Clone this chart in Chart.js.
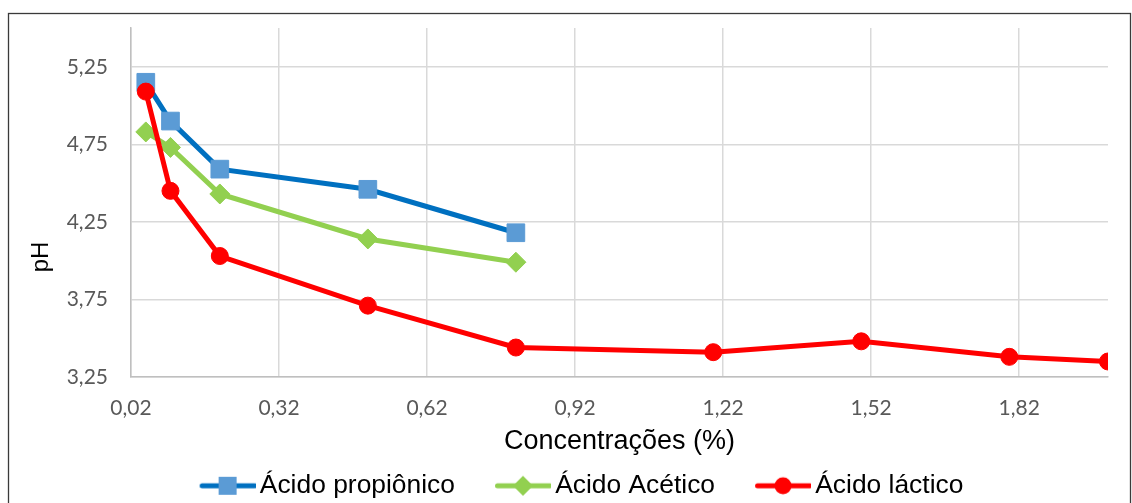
<!DOCTYPE html>
<html>
<head>
<meta charset="utf-8">
<script src="https://cdn.jsdelivr.net/npm/chart.js@4/dist/chart.umd.min.js"></script>
<style>
  html, body { margin: 0; padding: 0; background: #ffffff; }
  #c { display: block; }
</style>
</head>
<body>
<canvas id="c" width="1132" height="503"></canvas>
<script>
// pH measured against acid concentration (%)
const seriesNames = ['Ácido propiônico', 'Ácido Acético', 'Ácido láctico'];

const concPropionico = [0.05, 0.1, 0.2, 0.5, 0.8];
const phPropionico   = [5.15, 4.90, 4.59, 4.46, 4.18];

const concAcetico = [0.05, 0.1, 0.2, 0.5, 0.8];
const phAcetico   = [4.83, 4.73, 4.43, 4.14, 3.99];

const concLactico = [0.05, 0.1, 0.2, 0.5, 0.8, 1.2, 1.5, 1.8, 2.0];
const phLactico   = [5.09, 4.45, 4.03, 3.71, 3.44, 3.41, 3.48, 3.38, 3.35];

const xTicks = [0.02, 0.32, 0.62, 0.92, 1.22, 1.52, 1.82];
const yTicks = [3.25, 3.75, 4.25, 4.75, 5.25];

const xTitle = 'Concentrações (%)';
const yTitle = 'pH';

const toPoints = (xs, ys) => xs.map((x, i) => ({ x: x, y: ys[i] }));
const fmt = v => Number(v).toFixed(2).replace('.', ',');

// legend swatches: a short line with the series marker in the middle
function makeSwatch(lineColor, markerColor, marker) {
  const w = 97, h = 26, lineStart = 41, cx = (lineStart + w) / 2, cy = h / 2;
  const cv = document.createElement('canvas');
  cv.width = w; cv.height = h;
  const g = cv.getContext('2d');
  g.strokeStyle = lineColor;
  g.lineWidth = 5;
  g.lineCap = 'round';
  g.beginPath();
  g.moveTo(lineStart + 2.5, cy);
  g.lineTo(w - 1, cy);
  g.stroke();
  g.fillStyle = markerColor;
  g.beginPath();
  if (marker === 'rect') {
    g.rect(cx - 9, cy - 9, 18, 18);
  } else if (marker === 'diamond') {
    g.moveTo(cx, cy - 10); g.lineTo(cx + 10, cy); g.lineTo(cx, cy + 10); g.lineTo(cx - 10, cy); g.closePath();
  } else {
    g.arc(cx, cy, 8.5, 0, Math.PI * 2);
  }
  g.fill();
  return cv;
}

const swatches = [
  makeSwatch('#0070C0', '#5B9BD5', 'rect'),
  makeSwatch('#92D050', '#92D050', 'diamond'),
  makeSwatch('#FF0000', '#FF0000', 'circle')
];

// frame around the chart and the rotated y-axis title
const framePlugin = {
  id: 'frame',
  beforeDraw(chart) {
    const ctx = chart.ctx;
    ctx.save();
    ctx.fillStyle = '#ffffff';
    ctx.fillRect(0, 0, chart.width, chart.height);
    ctx.restore();
  },
  afterDraw(chart) {
    const ctx = chart.ctx;
    ctx.save();
    ctx.strokeStyle = '#3a3a3a';
    ctx.lineWidth = 1.3;
    ctx.strokeRect(8.5, 13.5, chart.width - 9.5 - 0.5, chart.height + 20);
    ctx.translate(48, 257);
    ctx.rotate(-Math.PI / 2);
    ctx.font = '24px "Liberation Sans", Arial, sans-serif';
    ctx.fillStyle = '#000000';
    ctx.textAlign = 'center';
    ctx.textBaseline = 'alphabetic';
    ctx.fillText(yTitle, 0, 0);
    ctx.restore();
  }
};

new Chart(document.getElementById('c'), {
  type: 'line',
  data: {
    datasets: [
      {
        label: seriesNames[0],
        data: toPoints(concPropionico, phPropionico),
        borderColor: '#0070C0',
        backgroundColor: '#5B9BD5',
        borderWidth: 5,
        pointStyle: 'rect',
        pointRadius: 12.5,
        pointBackgroundColor: '#5B9BD5',
        pointBorderColor: '#5B9BD5',
        pointBorderWidth: 1,
        order: 2
      },
      {
        label: seriesNames[1],
        data: toPoints(concAcetico, phAcetico),
        borderColor: '#92D050',
        backgroundColor: '#92D050',
        borderWidth: 5,
        pointStyle: 'rectRot',
        pointRadius: 10,
        pointBackgroundColor: '#92D050',
        pointBorderColor: '#92D050',
        pointBorderWidth: 1,
        order: 1
      },
      {
        label: seriesNames[2],
        data: toPoints(concLactico, phLactico),
        borderColor: '#FF0000',
        backgroundColor: '#FF0000',
        borderWidth: 5,
        pointStyle: 'circle',
        pointRadius: 8.5,
        pointBackgroundColor: '#FF0000',
        pointBorderColor: '#FF0000',
        pointBorderWidth: 1,
        order: 0
      }
    ]
  },
  options: {
    responsive: false,
    animation: false,
    devicePixelRatio: 1,
    layout: { autoPadding: false, padding: { left: 23, right: 24, top: 28, bottom: -6 } },
    plugins: {
      tooltip: { enabled: false },
      legend: {
        position: 'bottom',
        labels: {
          usePointStyle: true,
          pointStyleWidth: 79,
          padding: 8,
          color: '#000000',
          font: { family: '"Liberation Sans", Arial, sans-serif', size: 26.4 },
          generateLabels: () => seriesNames.map((name, i) => ({
            text: name,
            pointStyle: swatches[i],
            fillStyle: 'rgba(0,0,0,0)',
            strokeStyle: 'rgba(0,0,0,0)',
            lineWidth: 0,
            hidden: false,
            datasetIndex: i,
            fontColor: '#000000'
          }))
        }
      }
    },
    scales: {
      x: {
        type: 'linear',
        min: 0.02,
        max: 2.0,
        afterBuildTicks: s => { s.ticks = xTicks.map(v => ({ value: v })); },
        afterFit: s => { s.height = 87.6; },
        grid: { color: '#d9d9d9', lineWidth: 1.5, drawTicks: false },
        border: { color: '#bfbfbf', width: 1.5 },
        ticks: {
          autoSkip: false,
          maxRotation: 0,
          padding: 19,
          color: '#595959',
          font: { family: 'Lato, "Open Sans", sans-serif', size: 21 },
          callback: v => fmt(v)
        },
        title: {
          display: true,
          text: xTitle,
          color: '#000000',
          font: { family: '"Liberation Sans", Arial, sans-serif', size: 27 },
          padding: { top: 7, bottom: 7 }
        }
      },
      y: {
        type: 'linear',
        min: 3.25,
        max: 5.5,
        afterBuildTicks: s => { s.ticks = yTicks.map(v => ({ value: v })); },
        afterFit: s => { s.width = 108; s.paddingTop = 0; s.paddingBottom = 0; },
        grid: { color: '#d9d9d9', lineWidth: 1.5, drawTicks: false },
        border: { color: '#bfbfbf', width: 1.5 },
        ticks: {
          padding: 23,
          color: '#595959',
          font: { family: 'Lato, "Open Sans", sans-serif', size: 21 },
          callback: v => fmt(v)
        },
        title: { display: false }
      }
    }
  },
  plugins: [framePlugin]
});
</script>
</body>
</html>
